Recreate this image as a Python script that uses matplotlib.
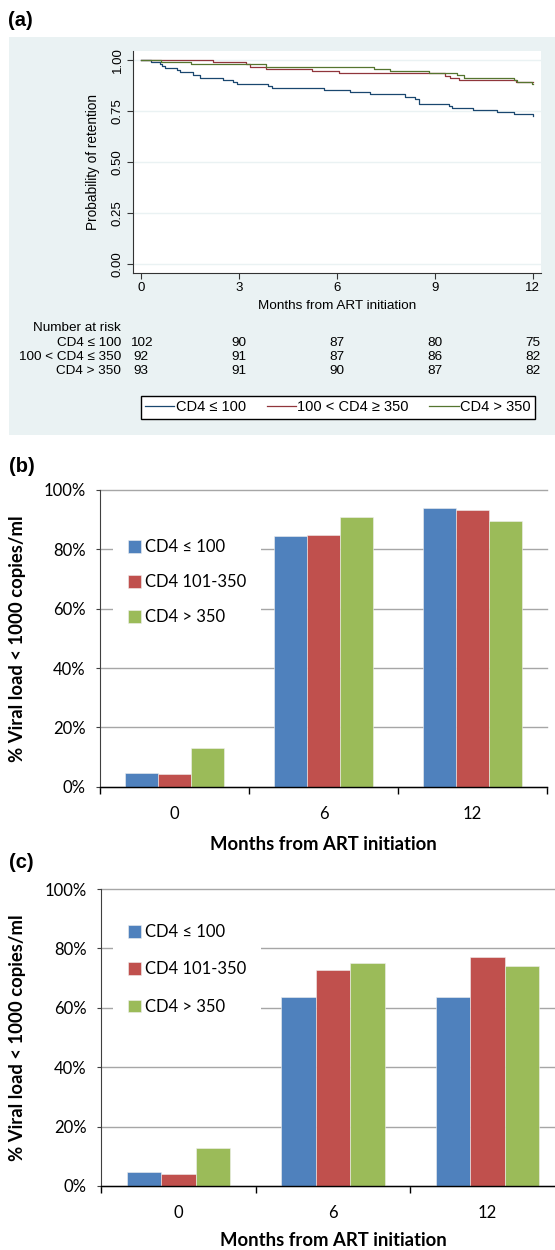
import numpy as np
import matplotlib
matplotlib.use("Agg")
import matplotlib.pyplot as plt
import matplotlib.transforms as mtransforms
from matplotlib.patches import Rectangle

# ---- data ----
# (a) Kaplan-Meier retention, step change points (months, probability)
km_t_low = [0, 0.30, 0.58, 0.63, 0.73, 1.09, 1.20, 1.60, 1.81, 2.52, 2.81, 2.93, 3.90, 4.00,
            5.59, 6.40, 7.00, 8.09, 8.40, 8.52, 9.42, 9.52, 10.18, 10.90, 11.41, 12.0]
km_s_low = [1.0, 0.990, 0.980, 0.971, 0.962, 0.951, 0.941, 0.927, 0.914, 0.902, 0.892, 0.884,
            0.874, 0.862, 0.852, 0.842, 0.832, 0.821, 0.808, 0.787, 0.776, 0.766, 0.756,
            0.746, 0.736, 0.727]
km_t_mid = [0, 2.19, 3.23, 3.34, 3.82, 5.23, 6.05, 9.31, 9.45, 9.74, 11.48, 12.0]
km_s_mid = [1.0, 0.989, 0.978, 0.967, 0.957, 0.946, 0.935, 0.924, 0.913, 0.902, 0.891, 0.891]
km_t_high = [0, 0.62, 1.54, 3.82, 7.13, 7.62, 8.82, 9.69, 9.90, 11.42, 11.53, 11.97, 12.0]
km_s_high = [1.0, 0.989, 0.978, 0.968, 0.957, 0.946, 0.935, 0.925, 0.914, 0.903, 0.892,
             0.882, 0.882]

risk_months = [0, 3, 6, 9, 12]
risk_low = [102, 90, 87, 80, 75]
risk_mid = [92, 91, 87, 86, 82]
risk_high = [93, 91, 90, 87, 82]
risk_rows = ["CD4 \u2264 100", "100 < CD4 \u2264 350", "CD4 > 350"]
km_labels = ["CD4 \u2264 100", "100 < CD4 \u2265 350", "CD4 > 350"]

# (b) and (c) % viral load < 1000 copies/ml
months = ["0", "6", "12"]
bar_labels = ["CD4 \u2264 100", "CD4 101-350", "CD4 > 350"]
vl_b_low = [4.75, 84.4, 94.0]
vl_b_mid = [4.2, 84.8, 93.3]
vl_b_high = [13.0, 90.8, 89.4]
vl_c_low = [4.75, 63.7, 63.7]
vl_c_mid = [4.2, 72.8, 77.1]
vl_c_high = [12.9, 75.2, 74.2]

W, H = 555, 1250
stata_font = ["Liberation Sans", "DejaVu Sans"]
excel_font = ["Lato", "DejaVu Sans"]
plt.rcParams["font.family"] = stata_font


def px_rect(l, t, r, b):
    return [l / W, 1 - b / H, (r - l) / W, (b - t) / H]


fig = plt.figure(figsize=(W / 100, H / 100), dpi=100)

# ---------------- panel (a) ----------------
fig.patches.append(Rectangle((9 / W, 1 - 435 / H), (W - 9) / W, (435 - 36.7) / H,
                             transform=fig.transFigure, facecolor="#EAF2F3",
                             edgecolor="none", zorder=-1))
fig.text(8 / W, 1 - 20 / H, "(a)", fontsize=14.5, fontweight="bold", ha="left", va="center")

ax = fig.add_axes(px_rect(133.3, 50.7, 541, 273.3))
km_colors = ["#1a476f", "#90353b", "#55752f"]
lines = []
for t, s, c in zip([km_t_low, km_t_mid, km_t_high], [km_s_low, km_s_mid, km_s_high], km_colors):
    ln, = ax.step(t, s, where="post", color=c, lw=0.9)
    lines.append(ln)
ax.set_xlim(-0.236, 12.25)
ax.set_ylim(-0.044, 1.0455)
ax.set_xticks(risk_months, labels=[str(m) for m in risk_months], fontsize=9.5)
yt = [0, 0.25, 0.5, 0.75, 1.0]
ax.set_yticks(yt, labels=["%.2f" % v for v in yt], fontsize=9.5, rotation=90, va="center")
ax.grid(axis="y", color="#EAF2F3", lw=1)
ax.set_axisbelow(True)
for side in ["top", "right"]:
    ax.spines[side].set_visible(False)
for side in ["left", "bottom"]:
    ax.spines[side].set_color("#333333")
    ax.spines[side].set_linewidth(0.8)
ax.tick_params(direction="out", length=4, width=0.8, color="#333333", pad=2)
ax.tick_params(axis="y", pad=3)
ax.set_xlabel("Months from ART initiation", fontsize=9.7, va="center")
ax.xaxis.set_label_coords(0.5, (273.3 - 306) / 222.6)
ax.set_ylabel("Probability of retention", fontsize=9.8, va="center")
ax.yaxis.set_label_coords((93 - 133.3) / 407.7, 0.5)

# number at risk table
trans = mtransforms.blended_transform_factory(ax.transData, fig.transFigure)
fig.text(121 / W, 1 - 328 / H, "Number at risk", fontsize=9.7, ha="right", va="center")
for row_y, lab, counts in zip([343, 357, 371], risk_rows, [risk_low, risk_mid, risk_high]):
    fig.text(121 / W, 1 - row_y / H, lab, fontsize=9.7, ha="right", va="center")
    for m, n in zip(risk_months, counts):
        ax.text(m, 1 - row_y / H, str(n), transform=trans, fontsize=9.7, ha="center", va="center")

ax.legend(lines, km_labels, loc="center", bbox_to_anchor=(338 / W, 1 - 407.2 / H),
          bbox_transform=fig.transFigure, ncol=3, fontsize=10.5, frameon=True, fancybox=False,
          edgecolor="black", framealpha=1, handlelength=2.0, handletextpad=0.12,
          columnspacing=1.4, borderpad=0.3)


# ---------------- panels (b) and (c) ----------------
def viral_panel(rect, low, mid, high, ax_h, leg_top, spacing, xlab_y, ylab_x):
    axb = fig.add_axes(rect)
    x = np.arange(len(months))
    w = 2 / 9
    colors = ["#4F81BD", "#C0504D", "#9BBB59"]
    bars = []
    for i, (vals, c) in enumerate(zip([low, mid, high], colors)):
        b = axb.bar(x + (i - 1) * w, vals, w, color=c, edgecolor="#F0F0F0", lw=0.4, zorder=2)
        bars.append(b)
    axb.set_xlim(-0.5, 2.5)
    axb.set_ylim(0, 100)
    axb.set_yticks(range(0, 101, 20), labels=["%d%%" % v for v in range(0, 101, 20)],
                   fontfamily=excel_font, fontsize=12)
    axb.set_xticks([-0.5, 0.5, 1.5, 2.5], labels=[])
    axb.set_xticks(x, labels=months, minor=True, fontfamily=excel_font, fontsize=12)
    axb.tick_params(axis="x", which="major", direction="out", length=5, width=1, color="black")
    axb.tick_params(axis="x", which="minor", length=0, pad=14)
    axb.tick_params(axis="y", direction="out", length=3.2, width=0.8, color="#404040", pad=7)
    axb.yaxis.grid(True, color="#A6A6A6", lw=1)
    for gl in axb.get_ygridlines():
        gl.set_clip_on(False)
    axb.set_axisbelow(True)
    axb.spines["top"].set_visible(False)
    axb.spines["right"].set_visible(False)
    axb.spines["left"].set_color("#404040")
    axb.spines["left"].set_linewidth(0.8)
    axb.spines["bottom"].set_color("black")
    axb.spines["bottom"].set_linewidth(1)
    axb.spines["bottom"].set_zorder(3)
    axb.set_xlabel("Months from ART initiation", fontfamily=excel_font, fontsize=13.3,
                   fontweight="bold", va="center")
    axb.xaxis.set_label_coords(0.5, -xlab_y / ax_h)
    axb.set_ylabel("% Viral load < 1000 copies/ml", fontfamily=excel_font, fontsize=13.3,
                   fontweight="bold", va="center")
    axb.yaxis.set_label_coords(ylab_x, 0.5)
    leg = axb.legend(bars, bar_labels, loc="upper left", bbox_to_anchor=(112.6 / W, 1 - leg_top / H),
                     bbox_transform=fig.transFigure, borderaxespad=0, frameon=True,
                     facecolor="white", edgecolor="none", framealpha=1, fancybox=False,
                     prop={"family": excel_font, "size": 12}, handlelength=0.8,
                     handleheight=0.8, handletextpad=0.25, borderpad=0.9,
                     labelspacing=spacing)
    leg.set_zorder(1.5)
    return axb


fig.text(9 / W, 1 - 466 / H, "(b)", fontsize=14.5, fontweight="bold", ha="left", va="center")
viral_panel(px_rect(100, 490, 547, 786.7), vl_b_low, vl_b_mid, vl_b_high, 296.7,
            524, 1.14, 58, (18 - 100) / 447)

fig.text(9 / W, 1 - 862 / H, "(c)", fontsize=14.5, fontweight="bold", ha="left", va="center")
viral_panel(px_rect(101, 889, 565, 1186), vl_c_low, vl_c_mid, vl_c_high, 297,
            909, 1.28, 54, (18 - 101) / 464)

fig.savefig("out.png", dpi=100)
